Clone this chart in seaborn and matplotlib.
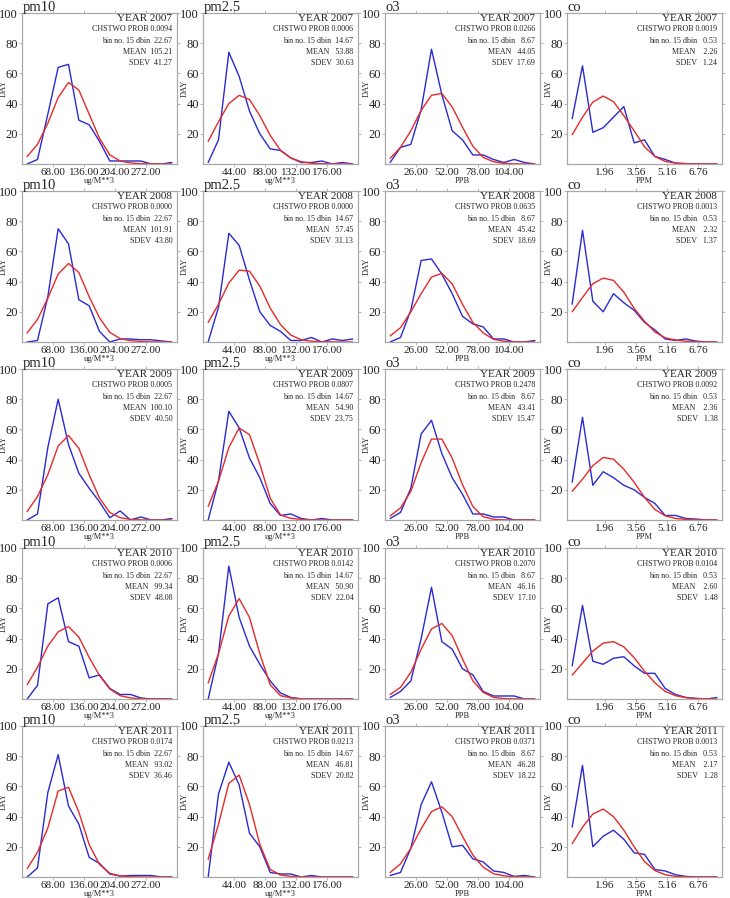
import numpy as np
import pandas as pd
import seaborn as sns
import matplotlib.pyplot as plt
from matplotlib.transforms import ScaledTranslation

# panel layout: rows = years, columns = pollutants
years = [2007, 2008, 2009, 2010, 2011]
species = ['pm10', 'pm2.5', 'o3', 'co']
units = ['ug/M**3', 'ug/M**3', 'PPB', 'PPM']
dbin = [22.667, 14.667, 8.667, 0.5333]
xticks = [[68, 136, 204, 272], [44, 88, 132, 176], [26, 52, 78, 104], [1.96, 3.56, 5.16, 6.76]]

# observed day counts per bin (blue), one row per year
pm10_obs = [
    [0, 3, 33, 64, 66, 29, 26, 15, 2, 2, 2, 2, 0, 0, 1],
    [0, 1, 30, 75, 65, 28, 24, 7, 0, 2, 2, 1.5, 1.5, 0.7, 0],
    [0, 4, 48, 80, 50, 31, 21, 12, 1.5, 6, 0, 2, 0, 0, 1],
    [0, 9, 63, 67, 38, 35, 14, 16, 7, 3, 3, 0.7, 0, 0, 0],
    [0, 6, 56, 81, 47, 35, 13, 9, 2, 0.6, 1, 1, 1, 0, 0],
]
pm25_obs = [
    [1, 16, 74, 58, 35, 20, 10, 9, 4, 1, 1, 2, 0, 1, 0],
    [0, 23, 72, 64, 41, 20, 11, 7, 1, 1, 3, 0, 2, 1, 2],
    [0, 26, 72, 61, 41, 28, 11, 3, 4, 1, 0, 1, 0, 0, 0],
    [0, 30, 88, 54, 35, 23, 12, 4, 1, 0, 0, 0, 0, 0, 0],
    [0, 55, 76, 61, 29, 20, 3, 2, 2, 0, 1, 0, 0, 0, 0],
]
o3_obs = [
    [1, 11, 13, 36, 76, 46, 22, 16, 6, 6, 3, 1, 3, 1, 0],
    [0, 3, 21, 54, 55, 45, 32, 17, 12, 10, 2, 2, 0, 0, 1],
    [1, 5, 21, 57, 66, 44, 28, 17, 4, 4, 2, 2, 0, 0, 0],
    [1, 5, 12, 40, 74, 38, 33, 20, 16, 5, 2, 2, 2, 0, 0],
    [1, 3, 19, 48, 63, 43, 20, 21, 12, 10, 4, 3, 0.4, 1, 0],
]
co_obs = [
    [30, 65, 21, 24, 31, 38, 14, 16, 5, 3, 0.6, 0.2, 0, 0, 0],
    [25, 74, 27, 20, 32, 26, 21, 13, 8, 2, 1, 2, 0.6, 0, 0],
    [25, 68, 23, 32, 28, 23, 20, 15, 11, 3, 3, 1, 0.6, 0, 0],
    [22, 62, 25, 23, 27, 28, 22, 17, 17, 7, 3, 1, 0.4, 0, 1],
    [33, 74, 20, 27, 31, 25, 16, 15, 5, 4, 1.5, 0.4, 0, 0, 0],
]

# fitted normal curve per bin (red)
pm10_fit = [
    [5, 13, 27, 44, 54, 49, 33, 17, 6, 2, 0.7, 0.2, 0.1, 0, 0],
    [6, 15, 29, 45, 52, 46, 30, 16, 6.4, 2.2, 0.9, 0.3, 0.1, 0, 0],
    [5.6, 15.6, 30, 49, 56, 47.5, 30, 14.5, 5, 1.5, 0.4, 0.1, 0, 0, 0],
    [9.5, 21, 35, 44.5, 48, 41, 27.6, 15.5, 6.6, 2.2, 0.7, 0.2, 0.1, 0, 0],
    [5.5, 16.4, 32.5, 57, 59.4, 43, 21.5, 8.3, 2.4, 0.7, 0.2, 0, 0, 0, 0],
]
pm25_fit = [
    [15, 28, 40, 45.5, 42.7, 32, 19, 9, 4, 1.5, 0.5, 0.2, 0.1, 0, 0],
    [13, 25, 39, 47.6, 46.9, 37, 22.5, 11.5, 4.6, 1.5, 0.5, 0.2, 0.1, 0, 0],
    [9, 25.7, 48, 61, 56.5, 37, 14.5, 3.3, 1.1, 0.4, 0.1, 0, 0, 0, 0],
    [10.6, 30, 55, 66.5, 54, 30, 9.5, 2.2, 0.7, 0.2, 0, 0, 0, 0, 0],
    [11.7, 35, 62, 67.5, 48, 21.6, 5, 1.3, 0.4, 0.1, 0, 0, 0, 0, 0],
]
o3_fit = [
    [3.8, 11, 22, 35.5, 45.5, 46.7, 37.8, 24.4, 11.8, 4.4, 1.5, 0.4, 0.1, 0, 0],
    [4, 9.5, 20, 32, 43, 45.5, 38.5, 25, 13, 6, 1.8, 0.5, 0.1, 0, 0],
    [2.7, 8, 19, 38, 53.6, 53.6, 41, 23.4, 9, 2.2, 0.5, 0.1, 0, 0, 0],
    [3, 7.7, 17.7, 33, 46.4, 50, 42, 26.5, 12, 4.4, 1.1, 0.3, 0.1, 0, 0],
    [3, 8.7, 19, 32, 43.3, 46.5, 40, 27, 14.6, 6.5, 2.2, 0.8, 0.2, 0.1, 0],
]
co_fit = [
    [19.4, 31, 41, 45, 41.3, 32, 22, 11.4, 5, 1.7, 0.6, 0.2, 0.1, 0, 0],
    [20, 29.5, 38.6, 42.3, 40.8, 33, 22.3, 13.7, 6.7, 2.8, 1.3, 0.5, 0.2, 0.1, 0],
    [19, 27, 36, 41.4, 40.3, 33.6, 25, 15, 7, 2.8, 1, 0.4, 0.1, 0, 0],
    [15.8, 23.8, 31.7, 37, 38, 34.5, 27.4, 18.4, 10.8, 5, 2.2, 0.9, 0.3, 0.1, 0],
    [22, 33, 41.7, 45, 40, 31, 20, 10.2, 4.3, 1.5, 0.4, 0.1, 0, 0, 0],
]

# statistics printed in each panel [year][species]
chi_prob = [
    [0.0094, 0.0006, 0.0266, 0.0019],
    [0.0000, 0.0000, 0.0635, 0.0013],
    [0.0005, 0.0807, 0.2478, 0.0092],
    [0.0006, 0.0142, 0.2070, 0.0104],
    [0.0174, 0.0213, 0.0371, 0.0013],
]
means = [
    [105.21, 53.88, 44.05, 2.26],
    [101.91, 57.45, 45.42, 2.32],
    [100.10, 54.90, 43.41, 2.36],
    [99.34, 50.90, 46.16, 2.60],
    [93.02, 46.81, 46.28, 2.17],
]
sdevs = [
    [41.27, 30.63, 17.69, 1.24],
    [43.80, 31.13, 18.69, 1.37],
    [40.50, 23.75, 15.47, 1.38],
    [48.08, 22.04, 17.10, 1.48],
    [36.46, 20.82, 18.22, 1.28],
]

obs = [pm10_obs, pm25_obs, o3_obs, co_obs]
fit = [pm10_fit, pm25_fit, o3_fit, co_fit]

sns.set_style('ticks')
plt.rcParams['font.family'] = ['Liberation Serif', 'DejaVu Serif']

BLUE = '#2a2ad2'
RED = '#e42a2a'
FRAME = '#a8a8a8'

W, H = 730, 898
fig = plt.figure(figsize=(W / 100, H / 100), dpi=100)

col_left = [22, 203, 385, 567]
row_top = [13, 191, 369, 548, 726]
aw, ah = 155, 151
shift = ScaledTranslation(4 / 100, 0, fig.dpi_scale_trans)

for r, yr in enumerate(years):
    for c, sp in enumerate(species):
        ax = fig.add_axes([col_left[c] / W, 1 - (row_top[r] + ah) / H, aw / W, ah / H])
        centers = (np.arange(15) + 0.5) * dbin[c]
        sns.lineplot(x=centers, y=obs[c][r], color=BLUE, lw=1.0, ax=ax)
        sns.lineplot(x=centers, y=fit[c][r], color=RED, lw=1.0, ax=ax)

        ax.set_xlim(0, 15 * dbin[c])
        ax.set_ylim(0, 100)
        ax.set_yticks([20, 40, 60, 80, 100])
        ax.set_yticklabels(['20', '40', '60', '80', '100'], fontsize=9)
        ax.set_xticks(xticks[c])
        ax.set_xticklabels([f'{t:.2f}' for t in xticks[c]], fontsize=8)
        for lab in ax.get_xticklabels():
            lab.set_transform(lab.get_transform() + shift)
        ax.tick_params(top=True, right=True, direction='out', length=2.5, width=0.6,
                       color=FRAME, pad=0.5, labelcolor='#222222')
        for s in ax.spines.values():
            s.set_color(FRAME)
            s.set_linewidth(0.9)

        ax.set_ylabel('DAY', fontsize=6)
        ax.yaxis.set_label_coords(-0.095, 0.5)
        ax.set_xlabel(units[c], fontsize=6, labelpad=0)

        ax.text(0.005, 1.01, sp, transform=ax.transAxes, fontsize=10.5, va='baseline', ha='left')
        ax.text(0.97, 0.965, f'YEAR {yr}', transform=ax.transAxes, fontsize=8, ha='right', va='center')
        ax.text(0.97, 0.893, f'CHSTWO PROB {chi_prob[r][c]:.4f}', transform=ax.transAxes,
                fontsize=5.8, ha='right', va='center')
        ax.text(0.97, 0.815, f'bin no. 15 dbin {dbin[c]:6.2f}', transform=ax.transAxes,
                fontsize=5.8, ha='right', va='center')
        ax.text(0.97, 0.742, f'MEAN {means[r][c]:7.2f}', transform=ax.transAxes,
                fontsize=5.8, ha='right', va='center')
        ax.text(0.97, 0.668, f'SDEV {sdevs[r][c]:6.2f}', transform=ax.transAxes,
                fontsize=5.8, ha='right', va='center')

fig.savefig('out.png', dpi=100)
